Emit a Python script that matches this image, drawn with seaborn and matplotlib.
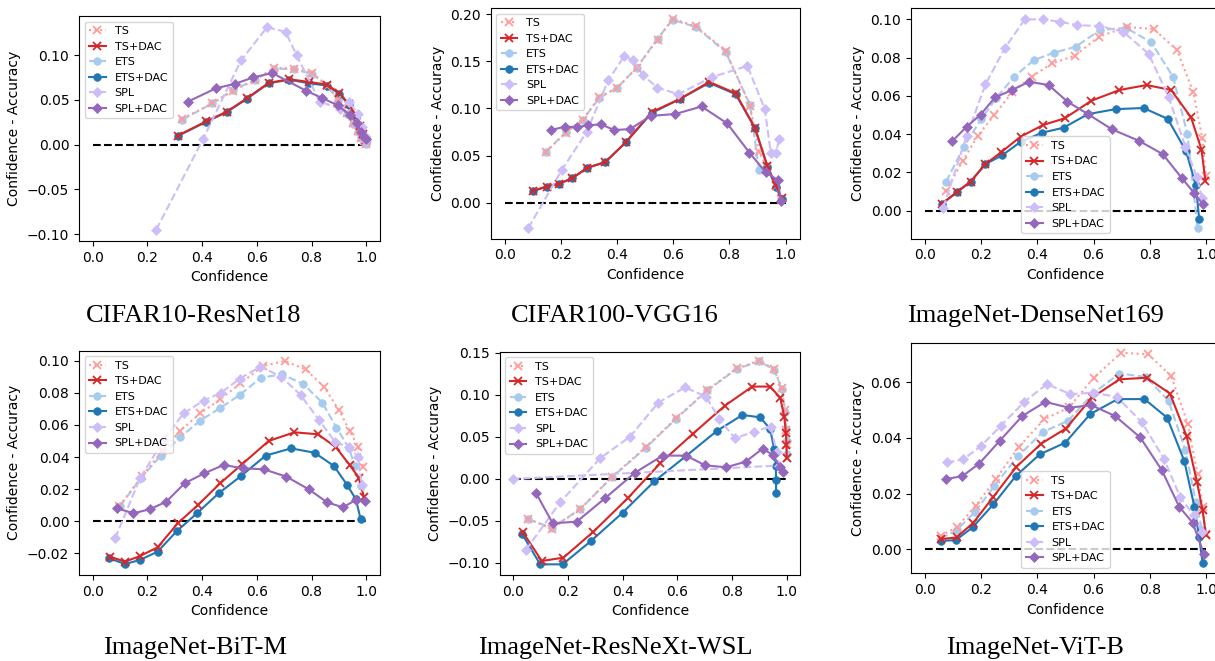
import matplotlib
matplotlib.use('Agg')
import matplotlib.pyplot as plt
import pandas as pd
import seaborn as sns

METHODS = ['TS', 'TS+DAC', 'ETS', 'ETS+DAC', 'SPL', 'SPL+DAC']

# CIFAR10-ResNet18
C10_TS_X = [0.328, 0.437, 0.512, 0.592, 0.664, 0.735, 0.802, 0.858, 0.897, 0.928, 0.951, 0.968, 0.982, 0.992, 0.998]
C10_TS_Y = [0.029, 0.046, 0.060, 0.072, 0.086, 0.085, 0.080, 0.066, 0.051, 0.035, 0.024, 0.015, 0.008, 0.004, 0.001]
C10_ETS_X = C10_TS_X
C10_ETS_Y = [0.028, 0.046, 0.061, 0.072, 0.085, 0.084, 0.079, 0.065, 0.050, 0.034, 0.023, 0.014, 0.008, 0.003, 0.001]
C10_TSD_X = [0.310, 0.415, 0.491, 0.565, 0.643, 0.718, 0.791, 0.855, 0.901, 0.937, 0.961, 0.977, 0.989, 0.998]
C10_TSD_Y = [0.010, 0.026, 0.037, 0.052, 0.069, 0.073, 0.070, 0.067, 0.058, 0.045, 0.033, 0.021, 0.012, 0.005]
C10_ETSD_X = C10_TSD_X
C10_ETSD_Y = [0.0095, 0.0255, 0.0365, 0.0515, 0.0685, 0.0725, 0.0685, 0.066, 0.057, 0.044, 0.031, 0.020, 0.011, 0.006]
C10_SPL_X = [0.232, 0.403, 0.542, 0.637, 0.705, 0.745, 0.830, 0.905, 0.937, 0.969, 0.984, 0.994, 0.999]
C10_SPL_Y = [-0.095, 0.006, 0.094, 0.131, 0.126, 0.100, 0.048, 0.040, 0.048, 0.034, 0.020, 0.010, 0.004]
C10_SPLD_X = [0.348, 0.451, 0.521, 0.586, 0.656, 0.781, 0.839, 0.895, 0.940, 0.965, 0.982, 0.994, 1.0]
C10_SPLD_Y = [0.048, 0.063, 0.068, 0.075, 0.080, 0.060, 0.052, 0.044, 0.033, 0.024, 0.014, 0.008, 0.006]

# CIFAR100-VGG16
C100_TS_X = [0.147, 0.218, 0.278, 0.337, 0.401, 0.470, 0.544, 0.598, 0.681, 0.786, 0.873, 0.905, 0.932, 0.964, 0.985]
C100_TS_Y = [0.054, 0.074, 0.088, 0.112, 0.122, 0.143, 0.173, 0.195, 0.187, 0.161, 0.103, 0.054, 0.038, 0.018, 0.004]
C100_ETS_X = C100_TS_X
C100_ETS_Y = [0.054, 0.075, 0.088, 0.111, 0.122, 0.143, 0.174, 0.194, 0.186, 0.160, 0.104, 0.035, 0.039, 0.017, 0.004]
C100_TSD_X = [0.100, 0.149, 0.193, 0.241, 0.294, 0.358, 0.431, 0.523, 0.624, 0.728, 0.822, 0.891, 0.935, 0.964, 0.986]
C100_TSD_Y = [0.0127, 0.017, 0.020, 0.026, 0.037, 0.043, 0.064, 0.096, 0.110, 0.128, 0.116, 0.079, 0.039, 0.019, 0.005]
C100_ETSD_X = C100_TSD_X
C100_ETSD_Y = [0.012, 0.017, 0.020, 0.026, 0.037, 0.043, 0.064, 0.095, 0.110, 0.127, 0.115, 0.079, 0.038, 0.017, 0.004]
C100_SPL_X = [0.084, 0.204, 0.292, 0.369, 0.425, 0.458, 0.493, 0.543, 0.618, 0.737, 0.864, 0.926, 0.947, 0.966, 0.976]
C100_SPL_Y = [-0.027, 0.035, 0.075, 0.130, 0.155, 0.151, 0.135, 0.122, 0.115, 0.133, 0.145, 0.099, 0.053, 0.053, 0.067]
C100_SPLD_X = [0.164, 0.214, 0.256, 0.295, 0.343, 0.390, 0.446, 0.520, 0.607, 0.701, 0.792, 0.871, 0.930, 0.972, 0.983]
C100_SPLD_Y = [0.077, 0.0805, 0.080, 0.082, 0.083, 0.077, 0.078, 0.092, 0.094, 0.102, 0.084, 0.053, 0.032, 0.024, 0.002]

# ImageNet-DenseNet169
DN_TS_X = [0.075, 0.134, 0.187, 0.246, 0.311, 0.379, 0.452, 0.533, 0.619, 0.718, 0.814, 0.897, 0.955, 0.987, 0.999]
DN_TS_Y = [0.0105, 0.026, 0.039, 0.050, 0.062, 0.070, 0.077, 0.081, 0.091, 0.096, 0.095, 0.084, 0.062, 0.038, 0.018]
DN_ETS_X = [0.075, 0.138, 0.199, 0.254, 0.317, 0.387, 0.459, 0.536, 0.622, 0.716, 0.805, 0.883, 0.934, 0.970]
DN_ETS_Y = [0.0152, 0.0334, 0.0477, 0.059, 0.070, 0.0787, 0.0826, 0.0857, 0.0944, 0.0956, 0.088, 0.070, 0.040, -0.009]
DN_TSD_X = [0.059, 0.112, 0.162, 0.215, 0.272, 0.340, 0.420, 0.497, 0.592, 0.692, 0.789, 0.876, 0.947, 0.984, 0.998]
DN_TSD_Y = [0.0035, 0.0096, 0.0152, 0.0244, 0.0307, 0.0387, 0.0448, 0.0483, 0.0575, 0.0631, 0.0657, 0.0631, 0.0488, 0.032, 0.0157]
DN_ETSD_X = [0.059, 0.112, 0.162, 0.215, 0.275, 0.340, 0.417, 0.493, 0.580, 0.678, 0.778, 0.864, 0.929, 0.964, 0.976]
DN_ETSD_Y = [0.0035, 0.0096, 0.0152, 0.0244, 0.029, 0.036, 0.0408, 0.0434, 0.0505, 0.0531, 0.0537, 0.048, 0.0312, 0.0134, -0.0044]
DN_SPL_X = [0.065, 0.148, 0.215, 0.284, 0.355, 0.420, 0.479, 0.542, 0.621, 0.705, 0.796, 0.867, 0.927, 0.967, 0.987]
DN_SPL_Y = [0.0017, 0.039, 0.066, 0.085, 0.100, 0.100, 0.0988, 0.097, 0.0965, 0.0936, 0.082, 0.0596, 0.0334, 0.0178, 0.0065]
DN_SPLD_X = [0.097, 0.148, 0.198, 0.249, 0.308, 0.370, 0.440, 0.507, 0.580, 0.666, 0.761, 0.846, 0.915, 0.959, 0.988]
DN_SPLD_Y = [0.0364, 0.0439, 0.0503, 0.0592, 0.063, 0.0674, 0.0657, 0.057, 0.0505, 0.0425, 0.0366, 0.0296, 0.0169, 0.0091, 0.0035]

# ImageNet-BiT-M
BIT_TS_X = [0.098, 0.179, 0.255, 0.320, 0.393, 0.466, 0.540, 0.623, 0.701, 0.778, 0.845, 0.900, 0.940, 0.971, 0.988]
BIT_TS_Y = [0.0095, 0.028, 0.0438, 0.0564, 0.0672, 0.0759, 0.0859, 0.0967, 0.0998, 0.0946, 0.0838, 0.0693, 0.056, 0.0465, 0.034]
BIT_ETS_X = [0.100, 0.176, 0.249, 0.320, 0.393, 0.464, 0.537, 0.615, 0.692, 0.769, 0.839, 0.891, 0.937, 0.958, 0.979]
BIT_ETS_Y = [0.0095, 0.0268, 0.0409, 0.0523, 0.0627, 0.0703, 0.0786, 0.0894, 0.0915, 0.0855, 0.0739, 0.0583, 0.0454, 0.0344, 0.022]
BIT_TSD_X = [0.0635, 0.118, 0.173, 0.237, 0.311, 0.385, 0.466, 0.547, 0.643, 0.737, 0.823, 0.889, 0.939, 0.972, 0.991]
BIT_TSD_Y = [-0.022, -0.0251, -0.0216, -0.0162, -0.0012, 0.0102, 0.0237, 0.0357, 0.050, 0.0554, 0.0542, 0.0461, 0.0351, 0.0272, 0.0154]
BIT_ETSD_X = [0.061, 0.118, 0.173, 0.237, 0.308, 0.381, 0.460, 0.542, 0.632, 0.725, 0.811, 0.882, 0.930, 0.962, 0.979]
BIT_ETSD_Y = [-0.023, -0.0266, -0.024, -0.0189, -0.006, 0.005, 0.0174, 0.0282, 0.0409, 0.0454, 0.0427, 0.0344, 0.0226, 0.0137, 0.0015]
BIT_SPL_X = [0.082, 0.173, 0.259, 0.332, 0.405, 0.470, 0.537, 0.613, 0.689, 0.760, 0.827, 0.885, 0.937, 0.970, 0.983]
BIT_SPL_Y = [-0.0106, 0.0268, 0.0506, 0.0672, 0.0751, 0.0801, 0.0888, 0.0963, 0.090, 0.0786, 0.0631, 0.0496, 0.046, 0.0402, 0.0226]
BIT_SPLD_X = [0.090, 0.149, 0.208, 0.269, 0.336, 0.408, 0.479, 0.548, 0.625, 0.708, 0.790, 0.857, 0.915, 0.961, 0.994]
BIT_SPLD_Y = [0.0081, 0.005, 0.0075, 0.0122, 0.0237, 0.0299, 0.0351, 0.033, 0.0324, 0.0278, 0.0199, 0.0118, 0.0087, 0.0133, 0.0127]

# ImageNet-ResNeXt-WSL
WSL_TS_X = [0.055, 0.140, 0.244, 0.361, 0.484, 0.595, 0.710, 0.817, 0.900, 0.954, 0.982, 0.994, 0.998, 1.0, 1.0]
WSL_TS_Y = [-0.0476, -0.0595, -0.0361, 0.0028, 0.0377, 0.0722, 0.106, 0.1317, 0.1409, 0.1306, 0.108, 0.082, 0.058, 0.042, 0.0246]
WSL_ETS_X = WSL_TS_X
WSL_ETS_Y = [-0.048, -0.058, -0.036, 0.002, 0.037, 0.0715, 0.1055, 0.131, 0.140, 0.130, 0.107, 0.080, 0.060, 0.045, 0.030]
WSL_TSD_X = [0.034, 0.104, 0.183, 0.293, 0.418, 0.537, 0.656, 0.774, 0.874, 0.939, 0.976, 0.991, 0.997, 0.999, 1.0]
WSL_TSD_Y = [-0.063, -0.0976, -0.0937, -0.0627, -0.023, 0.0187, 0.0536, 0.0873, 0.110, 0.110, 0.0968, 0.0742, 0.0544, 0.0405, 0.0246]
WSL_ETSD_X = [0.032, 0.098, 0.180, 0.284, 0.400, 0.515, 0.632, 0.744, 0.838, 0.902, 0.939, 0.954, 0.960, 0.961, 0.961]
WSL_ETSD_Y = [-0.0655, -0.1016, -0.1016, -0.0738, -0.040, -0.003, 0.0274, 0.0571, 0.0762, 0.0734, 0.0599, 0.0357, 0.0155, -0.0012, -0.0163]
WSL_SPL_X = [0.046, 0.171, 0.317, 0.427, 0.530, 0.628, 0.705, 0.754, 0.811, 0.880, 0.941, 0.963, 0.970, 0.0]
WSL_SPL_Y = [-0.0845, -0.0278, 0.0246, 0.0504, 0.0909, 0.109, 0.098, 0.071, 0.0484, 0.0563, 0.0623, 0.0325, 0.016, 0.0]
WSL_SPLD_X = [0.083, 0.144, 0.232, 0.335, 0.445, 0.546, 0.632, 0.701, 0.778, 0.850, 0.912, 0.949, 0.975, 0.988]
WSL_SPLD_Y = [-0.017, -0.0528, -0.0508, -0.023, 0.0075, 0.0278, 0.0278, 0.0163, 0.0139, 0.0206, 0.0362, 0.0286, 0.0147, 0.008]

# ImageNet-ViT-B
VIT_TS_X = [0.0556, 0.115, 0.180, 0.251, 0.334, 0.424, 0.512, 0.601, 0.698, 0.795, 0.876, 0.935, 0.970, 0.988, 1.0]
VIT_TS_Y = [0.0048, 0.008, 0.0156, 0.0251, 0.0368, 0.0467, 0.051, 0.0617, 0.0707, 0.0701, 0.0623, 0.0452, 0.027, 0.0152, 0.0054]
VIT_ETS_X = [0.0556, 0.112, 0.178, 0.246, 0.331, 0.420, 0.509, 0.601, 0.692, 0.787, 0.867, 0.927, 0.964, 0.986]
VIT_ETS_Y = [0.0038, 0.0068, 0.0134, 0.0227, 0.0335, 0.0422, 0.0462, 0.0563, 0.0632, 0.062, 0.0533, 0.0356, 0.017, 0.0068]
VIT_TSD_X = [0.0556, 0.112, 0.172, 0.243, 0.325, 0.414, 0.501, 0.595, 0.692, 0.789, 0.872, 0.931, 0.968, 0.988, 1.0]
VIT_TSD_Y = [0.0036, 0.0042, 0.0095, 0.0188, 0.0296, 0.038, 0.0434, 0.0546, 0.0611, 0.0617, 0.056, 0.0407, 0.0242, 0.014, 0.005]
VIT_ETSD_X = [0.0556, 0.109, 0.169, 0.243, 0.323, 0.408, 0.499, 0.588, 0.686, 0.781, 0.862, 0.923, 0.959, 0.976, 0.988]
VIT_ETSD_Y = [0.003, 0.0032, 0.0078, 0.0161, 0.0263, 0.0341, 0.0383, 0.0486, 0.054, 0.054, 0.0473, 0.0317, 0.0152, 0.0042, -0.0049]
VIT_SPL_X = [0.077, 0.136, 0.199, 0.270, 0.353, 0.434, 0.517, 0.598, 0.683, 0.772, 0.850, 0.909, 0.956, 0.986]
VIT_SPL_Y = [0.0312, 0.0323, 0.0371, 0.0444, 0.053, 0.0594, 0.0558, 0.0563, 0.0548, 0.0456, 0.0326, 0.0186, 0.0122, 0.0062]
VIT_SPLD_X = [0.0746, 0.133, 0.193, 0.266, 0.346, 0.428, 0.512, 0.592, 0.677, 0.766, 0.843, 0.905, 0.953, 0.992]
VIT_SPLD_Y = [0.0252, 0.0263, 0.0308, 0.039, 0.0479, 0.053, 0.0509, 0.0518, 0.0479, 0.0402, 0.0284, 0.0152, 0.0095, -0.0016]

TITLES = ['CIFAR10-ResNet18', 'CIFAR100-VGG16', 'ImageNet-DenseNet169',
          'ImageNet-BiT-M', 'ImageNet-ResNeXt-WSL', 'ImageNet-ViT-B']

# color, linestyle, marker, zorder
STYLES = {
    'TS': ('#ff9c9a', ':', 'x', 2.2),
    'TS+DAC': ('#d62728', '-', 'x', 2.3),
    'ETS': ('#a6cbef', '--', 'o', 2.0),
    'ETS+DAC': ('#1f77b4', '-', 'o', 2.1),
    'SPL': ('#cdbdf8', '--', 'D', 2.4),
    'SPL+DAC': ('#9467bd', '-', 'D', 2.5),
}


def panel_frame(series):
    parts = []
    for m, (xs, ys) in zip(METHODS, series):
        parts.append(pd.DataFrame({'conf': xs, 'gap': ys, 'method': m}))
    return pd.concat(parts, ignore_index=True)


def main():
    panels = [
        [(C10_TS_X, C10_TS_Y), (C10_TSD_X, C10_TSD_Y), (C10_ETS_X, C10_ETS_Y),
         (C10_ETSD_X, C10_ETSD_Y), (C10_SPL_X, C10_SPL_Y), (C10_SPLD_X, C10_SPLD_Y)],
        [(C100_TS_X, C100_TS_Y), (C100_TSD_X, C100_TSD_Y), (C100_ETS_X, C100_ETS_Y),
         (C100_ETSD_X, C100_ETSD_Y), (C100_SPL_X, C100_SPL_Y), (C100_SPLD_X, C100_SPLD_Y)],
        [(DN_TS_X, DN_TS_Y), (DN_TSD_X, DN_TSD_Y), (DN_ETS_X, DN_ETS_Y),
         (DN_ETSD_X, DN_ETSD_Y), (DN_SPL_X, DN_SPL_Y), (DN_SPLD_X, DN_SPLD_Y)],
        [(BIT_TS_X, BIT_TS_Y), (BIT_TSD_X, BIT_TSD_Y), (BIT_ETS_X, BIT_ETS_Y),
         (BIT_ETSD_X, BIT_ETSD_Y), (BIT_SPL_X, BIT_SPL_Y), (BIT_SPLD_X, BIT_SPLD_Y)],
        [(WSL_TS_X, WSL_TS_Y), (WSL_TSD_X, WSL_TSD_Y), (WSL_ETS_X, WSL_ETS_Y),
         (WSL_ETSD_X, WSL_ETSD_Y), (WSL_SPL_X, WSL_SPL_Y), (WSL_SPLD_X, WSL_SPLD_Y)],
        [(VIT_TS_X, VIT_TS_Y), (VIT_TSD_X, VIT_TSD_Y), (VIT_ETS_X, VIT_ETS_Y),
         (VIT_ETSD_X, VIT_ETSD_Y), (VIT_SPL_X, VIT_SPL_Y), (VIT_SPLD_X, VIT_SPLD_Y)],
    ]

    W, H = 1215, 661
    fig = plt.figure(figsize=(W / 100, H / 100), dpi=100)

    # axes boxes in pixels: left, right, top, bottom
    boxes = [(79, 380, 16, 241), (490.6, 799.7, 8, 238.7), (911, 1220, 8.3, 238.7),
             (79, 380, 350.7, 575), (499.7, 800.4, 351.7, 575), (911, 1220, 342.7, 573.3)]
    ylims = [(-0.1075, 0.1436), (-0.0382, 0.2064), (-0.0146, 0.1058),
             (-0.0334, 0.1062), (-0.1143, 0.1515), (-0.0087, 0.0743)]
    legend_locs = ['upper left', 'upper left', 'lower center',
                   'upper left', 'upper left', 'lower center']
    title_pos = [(194, 316), (615, 316), (1036, 316),
                 (195, 648), (615, 648), (1035, 648)]

    for i, series in enumerate(panels):
        l, r, t, b = boxes[i]
        ax = fig.add_axes([l / W, 1 - b / H, (r - l) / W, (b - t) / H])
        df = panel_frame(series)
        for m in METHODS:
            c, ls, mk, z = STYLES[m]
            sub = df[df['method'] == m]
            sns.lineplot(data=sub, x='conf', y='gap', sort=False, estimator=None,
                         color=c, linestyle=ls, marker=mk,
                         markersize=5.5 if mk != 'x' else 6,
                         markeredgecolor=c, markeredgewidth=1.3 if mk == 'x' else 0.5,
                         linewidth=1.5, label=m, ax=ax, zorder=z)
        ax.plot([0, 1], [0, 0], 'k--', linewidth=1.5, zorder=1.5)
        ax.set_xlim(-0.05, 1.05)
        ax.set_ylim(*ylims[i])
        ax.set_xlabel('Confidence', fontsize=10)
        ax.set_ylabel('Confidence - Accuracy', fontsize=10)
        ax.tick_params(labelsize=10)
        ax.legend(loc=legend_locs[i], fontsize=8, handlelength=1.5)
        tx, ty = title_pos[i]
        fig.text(tx / W, 1 - ty / H, TITLES[i], ha='center', va='center',
                 fontsize=19, family='Liberation Serif')

    fig.savefig('out.png', dpi=100)


if __name__ == '__main__':
    main()
